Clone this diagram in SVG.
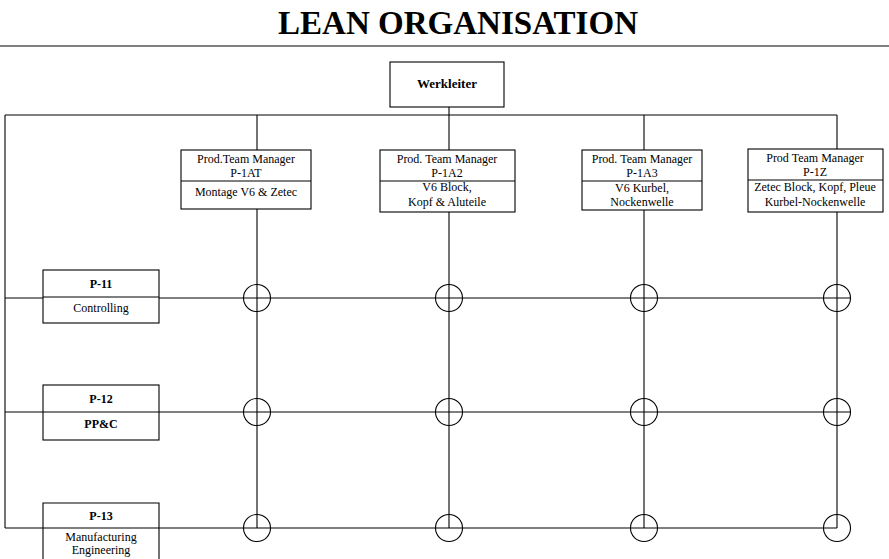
<svg xmlns="http://www.w3.org/2000/svg" width="889" height="559" viewBox="0 0 889 559">
<style>
.ln{stroke:#000;stroke-width:1.1;fill:none}
.box{stroke:#000;stroke-width:1.1;fill:#fff}
.c{stroke:#000;stroke-width:1.1;fill:none}
text{font-family:"Liberation Serif","Times New Roman",serif;fill:#000;text-anchor:middle}
.t{font-size:12px}
.b{font-size:12px;font-weight:bold}
</style>
<rect width="889" height="559" fill="#fff"/>
<text x="458" y="34" style="font-size:34px;font-weight:bold" textLength="360" lengthAdjust="spacingAndGlyphs">LEAN ORGANISATION</text>
<line class="ln" x1="0" y1="46" x2="889" y2="46"/>
<g id="connectors">
<line class="ln" x1="5" y1="115" x2="837" y2="115"/>
<line class="ln" x1="5" y1="115" x2="5" y2="528"/>
<line class="ln" x1="449" y1="107" x2="449" y2="150"/>
<line class="ln" x1="257" y1="115" x2="257" y2="150"/>
<line class="ln" x1="644" y1="115" x2="644" y2="150"/>
<line class="ln" x1="837" y1="115" x2="837" y2="149"/>
<line class="ln" x1="257" y1="209" x2="257" y2="528"/>
<line class="ln" x1="449" y1="212" x2="449" y2="528"/>
<line class="ln" x1="644" y1="210" x2="644" y2="528"/>
<line class="ln" x1="837" y1="212" x2="837" y2="528"/>
<line class="ln" x1="5" y1="298" x2="850" y2="298"/>
<line class="ln" x1="5" y1="412" x2="850" y2="412"/>
<line class="ln" x1="5" y1="528" x2="837" y2="528"/>
<circle class="c" cx="257" cy="298" r="13.5"/>
<circle class="c" cx="449" cy="298" r="13.5"/>
<circle class="c" cx="644" cy="298" r="13.5"/>
<circle class="c" cx="837" cy="298" r="13.5"/>
<circle class="c" cx="257" cy="412" r="13.5"/>
<circle class="c" cx="449" cy="412" r="13.5"/>
<circle class="c" cx="644" cy="412" r="13.5"/>
<circle class="c" cx="837" cy="412" r="13.5"/>
<circle class="c" cx="257" cy="528" r="13.5"/>
<circle class="c" cx="449" cy="528" r="13.5"/>
<circle class="c" cx="644" cy="528" r="13.5"/>
<circle class="c" cx="837" cy="528" r="13.5"/>
</g>
<g id="werkleiter">
<rect class="box" x="390" y="62" width="114" height="45"/>
<text class="b" x="447" y="88" style="font-size:13px">Werkleiter</text>
</g>
<g id="p1at">
<rect class="box" x="181" y="150" width="130" height="59"/>
<line class="ln" x1="181" y1="181" x2="311" y2="181"/>
<text class="t" x="246" y="163">Prod.Team Manager</text>
<text class="t" x="246" y="177">P-1AT</text>
<text class="t" x="246" y="196">Montage V6 &amp; Zetec</text>
</g>
<g id="p1a2">
<rect class="box" x="380" y="150" width="135" height="62"/>
<line class="ln" x1="380" y1="181" x2="515" y2="181"/>
<text class="t" x="447" y="163">Prod. Team Manager</text>
<text class="t" x="447" y="177">P-1A2</text>
<text class="t" x="447" y="191">V6 Block,</text>
<text class="t" x="447" y="206">Kopf &amp; Aluteile</text>
</g>
<g id="p1a3">
<rect class="box" x="582" y="150" width="120" height="60"/>
<line class="ln" x1="582" y1="181" x2="702" y2="181"/>
<text class="t" x="642" y="163">Prod. Team Manager</text>
<text class="t" x="642" y="177">P-1A3</text>
<text class="t" x="642" y="192">V6 Kurbel,</text>
<text class="t" x="642" y="206">Nockenwelle</text>
</g>
<g id="p1z">
<rect class="box" x="748" y="149" width="135" height="63"/>
<line class="ln" x1="748" y1="180" x2="883" y2="180"/>
<text class="t" x="815" y="162">Prod  Team Manager</text>
<text class="t" x="815" y="176">P-1Z</text>
<text class="t" x="815" y="191">Zetec Block, Kopf, Pleue</text>
<text class="t" x="815" y="206">Kurbel-Nockenwelle</text>
</g>
<g id="p11">
<rect class="box" x="43" y="270" width="116" height="53"/>
<line class="ln" x1="43" y1="297" x2="159" y2="297"/>
<text class="b" x="101" y="288">P-11</text>
<text class="t" x="101" y="312">Controlling</text>
</g>
<g id="p12">
<rect class="box" x="43" y="385" width="116" height="55"/>
<line class="ln" x1="43" y1="412" x2="159" y2="412"/>
<text class="b" x="101" y="403">P-12</text>
<text class="b" x="101" y="428">PP&amp;C</text>
</g>
<g id="p13">
<path class="box" d="M43,562 V503 H159 V562"/>
<line class="ln" x1="43" y1="528" x2="159" y2="528"/>
<text class="b" x="101" y="520">P-13</text>
<text class="t" x="101" y="541">Manufacturing</text>
<text class="t" x="101" y="554">Engineering</text>
</g>
</svg>
